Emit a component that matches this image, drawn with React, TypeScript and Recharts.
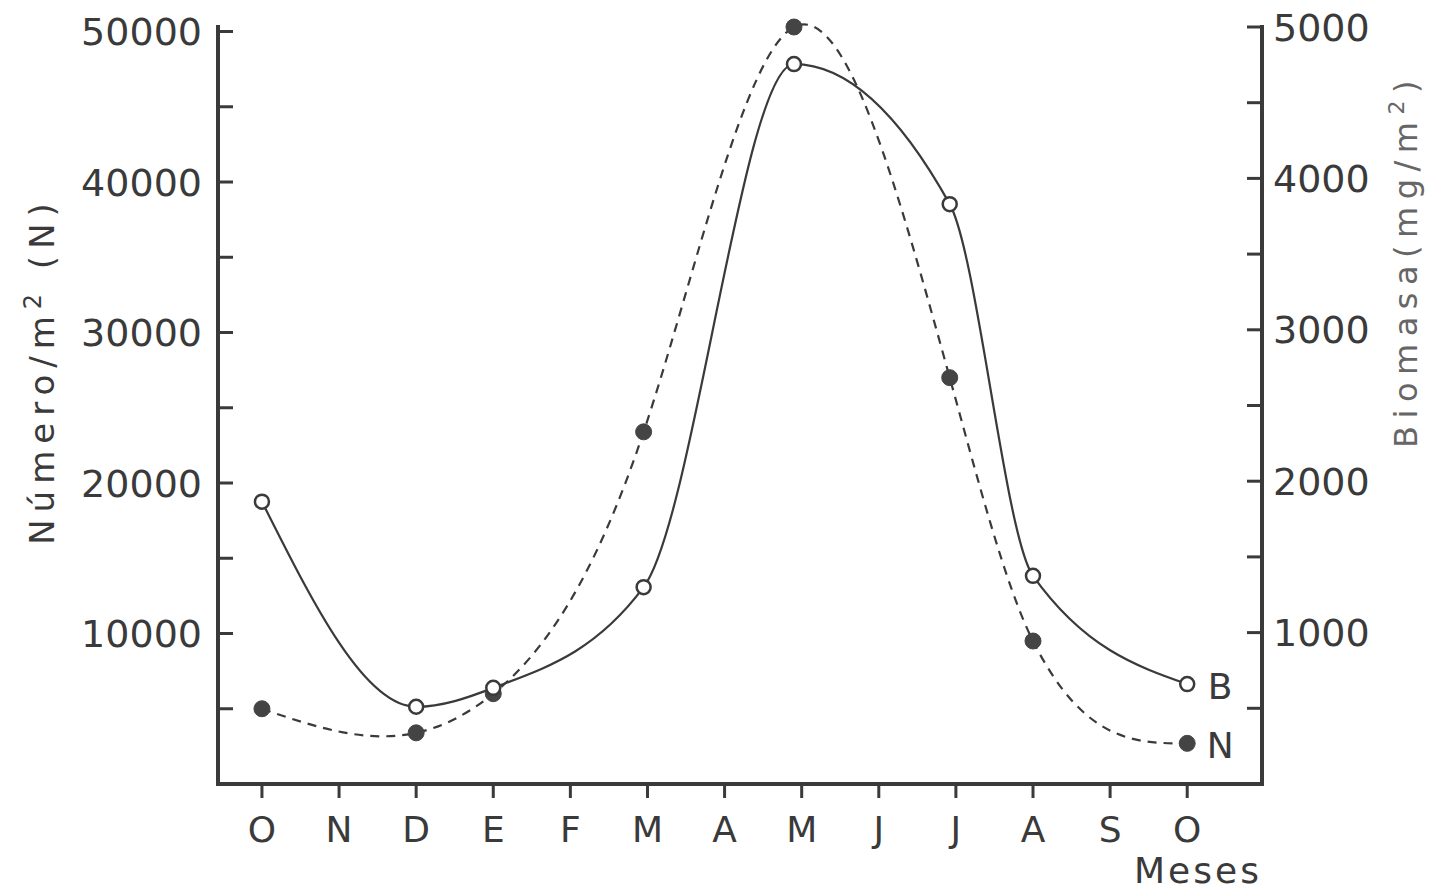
import React from 'react';
import { LineChart, Line, XAxis, YAxis, LabelList } from 'recharts';

// months on the x axis (Oct -> Oct)
const monthLabels = ['O', 'N', 'D', 'E', 'F', 'M', 'A', 'M', 'J', 'J', 'A', 'S', 'O'];
const monthTicks = [0, 1, 2, 3, 4, 5, 6, 7, 8, 9, 10, 11, 12];

// sampling dates, as month index
const sampleMonth = [0, 2, 3, 4.95, 6.9, 8.92, 10, 12];
// N: individuals per m2 (left axis)
const numero = [5000, 3400, 6000, 23400, 50300, 27000, 9500, 2700];
// B: biomass mg/m2 (right axis)
const biomasa = [1865, 510, 635, 1300, 4755, 3830, 1375, 660];

const numeroTicks = [5000, 10000, 15000, 20000, 25000, 30000, 35000, 40000, 45000, 50000];
const biomasaTicks = [500, 1000, 1500, 2000, 2500, 3000, 3500, 4000, 4500, 5000];

const data = sampleMonth.map((m, i) => ({ m, n: numero[i], b: biomasa[i] }));

const INK = '#3a3a3a';
const FONT = '"DejaVu Sans", Verdana, sans-serif';

// natural cubic spline in x; slopes are limited where the data runs one way
// so the tail doesn't undershoot, but the dip around a minimum is kept
function naturalX(context: any) {
  let xs: number[] = [];
  let ys: number[] = [];
  return {
    areaStart() {},
    areaEnd() {},
    lineStart() {
      xs = [];
      ys = [];
    },
    point(x: number, y: number) {
      xs.push(+x);
      ys.push(+y);
    },
    lineEnd() {
      const n = xs.length;
      if (!n) return;
      context.moveTo(xs[0], ys[0]);
      if (n === 1) return;
      if (n === 2) {
        context.lineTo(xs[1], ys[1]);
        return;
      }
      const h: number[] = [];
      const s: number[] = [];
      for (let i = 0; i < n - 1; i++) {
        h.push(xs[i + 1] - xs[i]);
        s.push((ys[i + 1] - ys[i]) / h[i]);
      }
      const M = new Array(n).fill(0);
      const a: number[] = [], b: number[] = [], c: number[] = [], d: number[] = [];
      for (let i = 1; i < n - 1; i++) {
        a.push(h[i - 1]);
        b.push(2 * (h[i - 1] + h[i]));
        c.push(h[i]);
        d.push(6 * (s[i] - s[i - 1]));
      }
      const k = b.length;
      for (let i = 1; i < k; i++) {
        const w = a[i] / b[i - 1];
        b[i] -= w * c[i - 1];
        d[i] -= w * d[i - 1];
      }
      const sol = new Array(k).fill(0);
      sol[k - 1] = d[k - 1] / b[k - 1];
      for (let i = k - 2; i >= 0; i--) sol[i] = (d[i] - c[i] * sol[i + 1]) / b[i];
      for (let i = 0; i < k; i++) M[i + 1] = sol[i];

      const m: number[] = [];
      for (let i = 0; i < n - 1; i++) m.push(s[i] - (h[i] * (2 * M[i] + M[i + 1])) / 6);
      m.push(s[n - 2] + (h[n - 2] * (M[n - 2] + 2 * M[n - 1])) / 6);

      // limit
      if (Math.sign(m[0]) !== Math.sign(s[0])) m[0] = 0;
      if (Math.sign(m[n - 1]) !== Math.sign(s[n - 2])) m[n - 1] = 0;
      for (let i = 1; i < n - 1; i++) {
        if (Math.sign(s[i - 1]) === Math.sign(s[i])) {
          const lim = 3 * Math.min(Math.abs(s[i - 1]), Math.abs(s[i]));
          if (Math.sign(m[i]) !== Math.sign(s[i])) m[i] = 0;
          else if (Math.abs(m[i]) > lim) m[i] = Math.sign(m[i]) * lim;
        }
      }

      for (let i = 0; i < n - 1; i++) {
        const hi = h[i];
        context.bezierCurveTo(
          xs[i] + hi / 3,
          ys[i] + (m[i] * hi) / 3,
          xs[i + 1] - hi / 3,
          ys[i + 1] - (m[i + 1] * hi) / 3,
          xs[i + 1],
          ys[i + 1]
        );
      }
    },
  };
}

const LeftTick = (props: any) => {
  const { x, y, payload } = props;
  const v = payload.value;
  return (
    <g>
      <line x1={x} x2={x + 15} y1={y} y2={y} stroke={INK} strokeWidth={3} />
      {v % 10000 === 0 && (
        <text x={x - 16} y={y} dy="0.36em" textAnchor="end" fontSize={38} fill={INK} fontFamily={FONT}>
          {v}
        </text>
      )}
    </g>
  );
};

const RightTick = (props: any) => {
  const { x, y, payload } = props;
  const v = payload.value;
  return (
    <g>
      <line x1={x} x2={x - 15} y1={y} y2={y} stroke={INK} strokeWidth={3} />
      {v % 1000 === 0 && (
        <text x={x + 11} y={y} dy="0.36em" textAnchor="start" fontSize={38} fill={INK} fontFamily={FONT}>
          {v}
        </text>
      )}
    </g>
  );
};

const MonthTick = (props: any) => {
  const { x, y, payload } = props;
  return (
    <g>
      <line x1={x} x2={x} y1={y} y2={y + 14} stroke={INK} strokeWidth={3} />
      <text x={x} y={y + 45} dy="0.36em" textAnchor="middle" fontSize={36} fill={INK} fontFamily={FONT}>
        {monthLabels[payload.value]}
      </text>
    </g>
  );
};

const LeftTitle = (props: any) => {
  const vb = props.viewBox;
  const x = vb.x + 42;
  const y = vb.y + vb.height / 2 - 35;
  return (
    <text
      x={x}
      y={y}
      dy="0.36em"
      textAnchor="middle"
      transform={`rotate(-90, ${x}, ${y})`}
      fontSize={34}
      letterSpacing={7}
      fill={INK}
      fontFamily={FONT}
    >
      <tspan>Número/m</tspan>
      <tspan dy={-13} fontSize={24}>2</tspan>
      <tspan dy={13}> (N)</tspan>
    </text>
  );
};

const RightTitle = (props: any) => {
  const vb = props.viewBox;
  const x = vb.x + 143;
  const y = vb.y + vb.height / 2 - 145;
  return (
    <text
      x={x}
      y={y}
      dy="0.36em"
      textAnchor="middle"
      transform={`rotate(-90, ${x}, ${y})`}
      fontSize={32}
      letterSpacing={7.5}
      fill="#666"
      fontFamily={FONT}
    >
      <tspan>Biomasa(mg/m</tspan>
      <tspan dy={-13} fontSize={22}>2</tspan>
      <tspan dy={13}>)</tspan>
    </text>
  );
};

const MonthTitle = (props: any) => {
  const vb = props.viewBox;
  return (
    <text
      x={vb.x + vb.width - 64}
      y={vb.y + 86}
      dy="0.36em"
      textAnchor="middle"
      fontSize={36}
      letterSpacing={3}
      fill={INK}
      fontFamily={FONT}
    >
      Meses
    </text>
  );
};

const endLabel = (text: string, last: number) => (p: any) => {
  if (p.index !== data.length - 1 && p.value !== last) return null;
  return (
    <text x={p.x + 33} y={p.y + 2} dy="0.36em" textAnchor="middle" fontSize={36} fill={INK} fontFamily={FONT}>
      {text}
    </text>
  );
};

export default function App() {
  return (
    <div style={{ position: 'absolute', left: 0, top: 0, background: '#fff' }}>
      <LineChart width={1439} height={890} data={data} margin={{ top: 27, right: 0, bottom: 46, left: 0 }}>
        <XAxis
          dataKey="m"
          type="number"
          domain={[-0.57, 12.97]}
          ticks={monthTicks}
          interval={0}
          tickSize={0}
          tickMargin={0}
          tickLine={false}
          tick={<MonthTick />}
          height={60}
          axisLine={{ stroke: INK, strokeWidth: 4, strokeLinecap: 'square' }}
          label={(p: any) => <MonthTitle {...p} />}
        />
        <YAxis
          yAxisId="n"
          orientation="left"
          width={218}
          domain={[0, 'dataMax']}
          ticks={numeroTicks}
          interval={0}
          tickSize={0}
          tickMargin={0}
          tickLine={false}
          tick={<LeftTick />}
          axisLine={{ stroke: INK, strokeWidth: 4, strokeLinecap: 'square' }}
          label={(p: any) => <LeftTitle {...p} />}
        />
        <YAxis
          yAxisId="b"
          orientation="right"
          width={177}
          domain={[0, 5000]}
          ticks={biomasaTicks}
          interval={0}
          tickSize={0}
          tickMargin={0}
          tickLine={false}
          tick={<RightTick />}
          axisLine={{ stroke: INK, strokeWidth: 4, strokeLinecap: 'square' }}
          label={(p: any) => <RightTitle {...p} />}
        />
        <Line
          yAxisId="n"
          dataKey="n"
          type={naturalX as any}
          stroke={INK}
          strokeWidth={2.2}
          strokeDasharray="9 7"
          dot={{ r: 8, fill: '#444', stroke: '#444', strokeWidth: 1, strokeDasharray: '' }}
          isAnimationActive={false}
        >
          <LabelList dataKey="n" content={endLabel('N', numero[numero.length - 1])} />
        </Line>
        <Line
          yAxisId="b"
          dataKey="b"
          type="monotone"
          stroke={INK}
          strokeWidth={2.2}
          dot={{ r: 7, fill: '#fff', stroke: INK, strokeWidth: 2.5 }}
          isAnimationActive={false}
        >
          <LabelList dataKey="b" content={endLabel('B', biomasa[biomasa.length - 1])} />
        </Line>
      </LineChart>
    </div>
  );
}
